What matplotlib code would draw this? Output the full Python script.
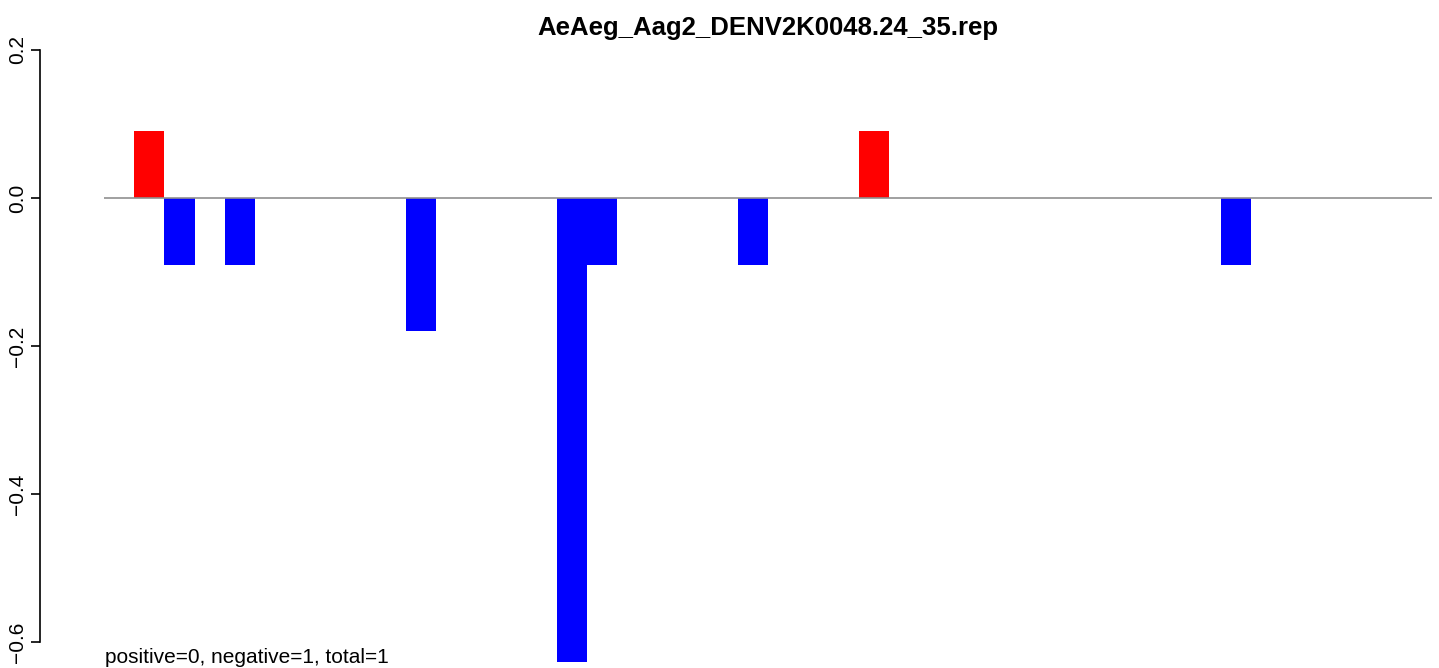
import matplotlib
matplotlib.use("Agg")
import matplotlib.pyplot as plt

plt.rcParams['font.family'] = ['Liberation Sans', 'DejaVu Sans']

# bar positions (left edge, in bar widths) and values
positions = [1, 2, 4, 10, 15, 16, 21, 25, 37]
values = [0.09, -0.09, -0.09, -0.18, -0.627, -0.09, -0.09, 0.09, -0.09]
yticks = [-0.6, -0.4, -0.2, 0.0, 0.2]
title = "AeAeg_Aag2_DENV2K0048.24_35.rep"
note = "positive=0, negative=1, total=1"

W, H = 1439, 668
fig = plt.figure(figsize=(W / 100, H / 100), dpi=100)
# plot region in pixels: x 104..1432, y 40..662
ax = fig.add_axes([104 / W, 1 - 662 / H, (1432 - 104) / W, (662 - 40) / H])

colors = ['red' if v > 0 else 'blue' for v in values]
ax.bar(positions, values, width=1.0, align='edge', color=colors, linewidth=0)
ax.axhline(0, color='#909090', linewidth=1.2, zorder=3)

ax.set_xlim(0, 44)
ax.set_ylim(-0.627, 0.2135)

for s in ['top', 'right', 'bottom']:
    ax.spines[s].set_visible(False)
ax.spines['left'].set_position(('outward', 46))
ax.spines['left'].set_bounds(-0.6, 0.2)
ax.spines['left'].set_linewidth(1.2)
ax.set_xticks([])
ax.set_yticks(yticks)
ax.set_yticklabels([("%.1f" % t).replace("-", "\u2212") for t in yticks],
                   rotation=90, va='center', fontsize=15)
ax.tick_params(axis='y', length=6.5, width=1.2, pad=3)

ax.set_title(title, fontsize=18.5, fontweight='bold', pad=2)
ax.annotate(note, xy=(0, 0), xycoords='axes fraction', xytext=(0.5, -0.8),
            textcoords='offset points', fontsize=15, ha='left', va='baseline')

fig.savefig("out.png", dpi=100)
